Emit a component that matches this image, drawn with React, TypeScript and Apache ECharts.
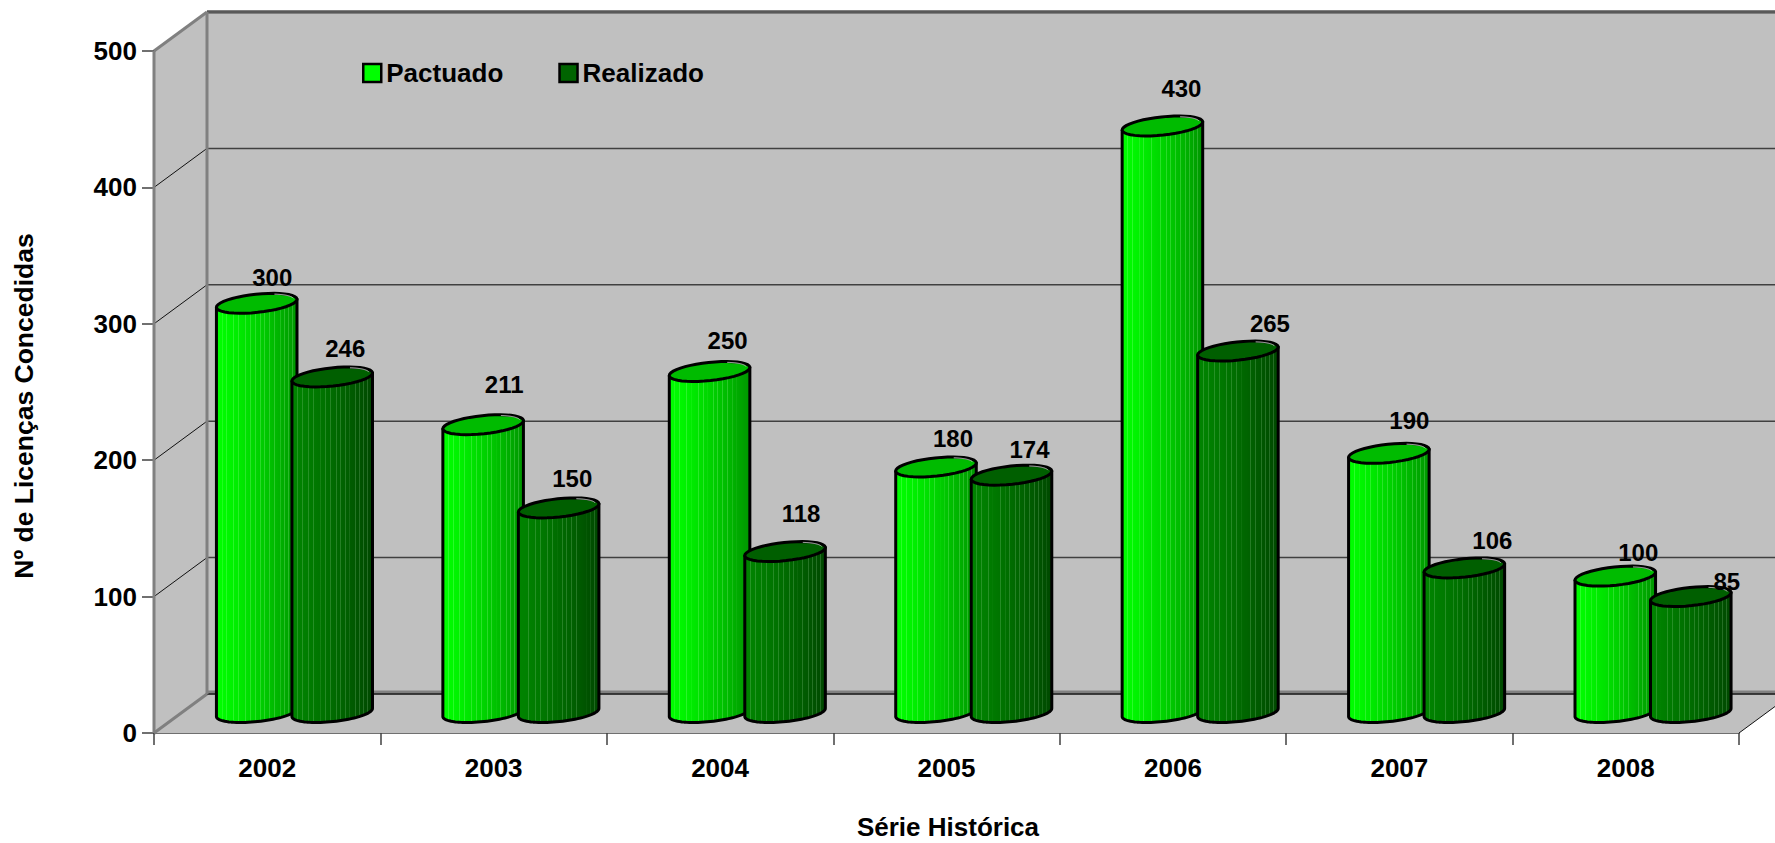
import React, { useEffect, useRef } from "react";
import * as echarts from "echarts";

const years = ["2002", "2003", "2004", "2005", "2006", "2007", "2008"];
const pactuado = [300, 211, 250, 180, 430, 190, 100];
const realizado = [246, 150, 118, 174, 265, 106, 85];
const yTicks = [0, 100, 200, 300, 400, 500];

// Where each value label was placed relative to the top of its cylinder
const pactuadoLabelShift = [[15.5, -26], [21, -40], [18, -31.5], [17, -28], [19, -37], [20.5, -33], [23, -24]];
const realizadoLabelShift = [[13, -28], [13.6, -29], [16, -38.5], [18, -26], [32, -28], [28, -27], [36, -15]];

const FONT = '"Liberation Sans", Arial, sans-serif';
const DEPTH_X = 53;
const DEPTH_Y = 39;
const BASE_LIFT = 20.5;
const RX = 40.5;
const RY = 9.1;
const TILT = (-6 * Math.PI) / 180;
const STRIPES = [0.07, 0.13, 0.21, 0.27, 0.36, 0.42, 0.48, 0.55, 0.6, 0.66, 0.72, 0.79, 0.84, 0.89, 0.94];

function mix(a: number[], b: number[], t: number) {
  return a.map((v, i) => Math.round(v + (b[i] - v) * t));
}
function rgb(c: number[]) {
  return `rgb(${c[0]},${c[1]},${c[2]})`;
}
function bodyGradient(from: number[], to: number[], stripe: number[]) {
  const colorStops: { offset: number; color: string }[] = [];
  let prev = 0;
  STRIPES.forEach((s) => {
    const base = mix(from, to, Math.pow(s, 1.3));
    colorStops.push({ offset: prev, color: rgb(mix(from, to, Math.pow(prev, 1.3))) });
    colorStops.push({ offset: s - 0.006, color: rgb(base) });
    colorStops.push({ offset: s - 0.005, color: rgb(mix(base, stripe, 0.22)) });
    colorStops.push({ offset: s + 0.005, color: rgb(mix(base, stripe, 0.22)) });
    colorStops.push({ offset: s + 0.006, color: rgb(base) });
    prev = s + 0.006;
  });
  colorStops.push({ offset: 1, color: rgb(to) });
  return { type: "linear", x: 0, y: 0, x2: 1, y2: 0, colorStops };
}

function ellipsePoint(cx: number, cy: number, deg: number, scale = 1) {
  const t = (deg * Math.PI) / 180;
  const ex = RX * scale * Math.cos(t);
  const ey = RY * scale * Math.sin(t);
  return [cx + ex * Math.cos(TILT) - ey * Math.sin(TILT), cy + ex * Math.sin(TILT) + ey * Math.cos(TILT)];
}
function arcPoints(cx: number, cy: number, from: number, to: number, scale = 1) {
  const pts: number[][] = [];
  const n = 40;
  for (let i = 0; i <= n; i++) pts.push(ellipsePoint(cx, cy, from + ((to - from) * i) / n, scale));
  return pts;
}

function cylinderRenderer(
  offsetX: number,
  values: number[],
  shifts: number[][],
  from: number[],
  to: number[],
  stripe: number[],
  topColor: string
) {
  return (_params: any, api: any) => {
    const i = api.value(0);
    const v = api.value(1);
    const top = api.coord([i, v]);
    const base = api.coord([i, 0]);
    const cx = top[0] + offsetX;
    const topY = top[1] - BASE_LIFT;
    const baseY = base[1] - BASE_LIFT;
    const rightDeg = 0;
    const leftDeg = 180;
    const topLeft = ellipsePoint(cx, topY, leftDeg);
    const topRight = ellipsePoint(cx, topY, rightDeg);
    const bottom = arcPoints(cx, baseY, rightDeg, leftDeg);
    const body = [topLeft, ...bottom.slice().reverse(), topRight];
    const shift = shifts[i];
    return {
      type: "group",
      children: [
        {
          type: "polygon",
          shape: { points: body },
          style: { fill: bodyGradient(from, to, stripe), stroke: "#000", lineWidth: 3, lineJoin: "round" },
        },
        {
          type: "polygon",
          shape: { points: arcPoints(cx, topY, 0, 360) },
          style: { fill: topColor, stroke: "#000", lineWidth: 3 },
        },
        {
          type: "polyline",
          shape: { points: arcPoints(cx, topY, -60, -8, 0.92) },
          style: { fill: "none", stroke: "#c8c8c8", lineWidth: 1 },
        },
        {
          type: "text",
          z2: 10,
          style: {
            text: String(values[i]),
            x: cx + shift[0],
            y: topY + shift[1],
            fill: "#000",
            font: `bold 24px ${FONT}`,
            textAlign: "center",
            textVerticalAlign: "middle",
          },
        },
      ],
    };
  };
}

function renderWalls(params: any, api: any) {
  const cs = params.coordSys;
  const x0 = cs.x;
  const x1 = cs.x + cs.width;
  const y0 = api.coord([0, 0])[1];
  const yTop = api.coord([0, 500])[1];
  const bx0 = x0 + DEPTH_X;
  const bx1 = x1 + DEPTH_X;
  const wall = { fill: "#C0C0C0" };
  const children: any[] = [
    { type: "polygon", shape: { points: [[bx0, yTop - DEPTH_Y], [bx1, yTop - DEPTH_Y], [bx1, y0 - DEPTH_Y], [bx0, y0 - DEPTH_Y]] }, style: wall },
    { type: "polygon", shape: { points: [[x0, yTop], [bx0, yTop - DEPTH_Y], [bx0, y0 - DEPTH_Y], [x0, y0]] }, style: wall },
    { type: "polygon", shape: { points: [[x0, y0], [bx0, y0 - DEPTH_Y], [bx1, y0 - DEPTH_Y], [x1, y0]] }, style: wall },
  ];
  const line = (a: number[], b: number[], stroke: string, lineWidth: number) => ({
    type: "line",
    shape: { x1: a[0], y1: a[1], x2: b[0], y2: b[1] },
    style: { stroke, lineWidth },
  });
  yTicks.slice(1, -1).forEach((t) => {
    const y = api.coord([0, t])[1];
    children.push(line([bx0, y - DEPTH_Y], [bx1, y - DEPTH_Y], "#404040", 1.5));
    children.push(line([x0, y], [bx0, y - DEPTH_Y], "#111", 1));
  });
  children.push(line([bx0, y0 - DEPTH_Y - 2], [bx1, y0 - DEPTH_Y - 2], "#808080", 3));
  children.push(line([bx0, y0 - DEPTH_Y], [bx1, y0 - DEPTH_Y], "#111", 1.5));
  children.push(line([x1, y0], [bx1, y0 - DEPTH_Y], "#111", 1));
  children.push(line([bx0, yTop - DEPTH_Y], [bx1, yTop - DEPTH_Y], "#808080", 4));
  children.push(line([bx0, yTop - DEPTH_Y], [bx1, yTop - DEPTH_Y], "#333", 1));
  children.push(line([bx0, yTop - DEPTH_Y], [bx0, y0 - DEPTH_Y], "#808080", 3));
  children.push(line([x0, yTop], [bx0, yTop - DEPTH_Y], "#808080", 3));
  children.push(line([x0, y0], [bx0, y0 - DEPTH_Y], "#808080", 3));
  children.push(line([x0, yTop], [x0, y0], "#808080", 3));
  return { type: "group", children };
}

export default function App() {
  const ref = useRef<HTMLDivElement>(null);
  useEffect(() => {
    document.body.style.margin = "0";
    const chart = echarts.init(ref.current!, undefined, { renderer: "svg" });
    chart.setOption({
      animation: false,
      backgroundColor: "#fff",
      grid: { left: 154, right: 36, top: 51, bottom: 110, outerBoundsMode: "none" },
      legend: {
        left: 362,
        top: 60,
        data: ["Pactuado", "Realizado"],
        icon: "rect",
        itemWidth: 18,
        itemHeight: 18,
        itemGap: 55,
        padding: 0,
        itemStyle: { borderColor: "#000", borderWidth: 2.5 },
        textStyle: { fontFamily: FONT, fontWeight: "bold", fontSize: 26, color: "#000" },
      },
      xAxis: {
        type: "category",
        data: years,
        boundaryGap: true,
        name: "Série Histórica",
        nameLocation: "middle",
        nameGap: 81,
        nameTextStyle: { fontFamily: FONT, fontWeight: "bold", fontSize: 26, color: "#000", padding: [0, 0, 0, 3] },
        axisLine: { show: true, lineStyle: { color: "#404040", width: 1.5 } },
        axisTick: { show: true, length: 12, lineStyle: { color: "#404040", width: 1.5 } },
        axisLabel: { fontFamily: FONT, fontWeight: "bold", fontSize: 26, color: "#000", margin: 22 },
      },
      yAxis: {
        type: "value",
        min: 0,
        max: 500,
        interval: 100,
        name: "Nº de Licenças Concedidas",
        nameLocation: "middle",
        nameRotate: 90,
        nameGap: 117,
        nameTextStyle: { fontFamily: FONT, fontWeight: "bold", fontSize: 26.5, color: "#000", padding: [0, 28, 0, 0] },
        axisLine: { show: true, lineStyle: { color: "#808080", width: 3 } },
        axisTick: { show: true, length: 12, lineStyle: { color: "#404040", width: 1.5 } },
        splitLine: { show: false },
        axisLabel: { fontFamily: FONT, fontWeight: "bold", fontSize: 26, color: "#000", margin: 17 },
      },
      series: [
        {
          name: "Paredes",
          type: "custom",
          silent: true,
          clip: false,
          z: 1,
          data: [[0, 0]],
          encode: { x: 0, y: 1 },
          renderItem: renderWalls,
        },
        {
          name: "Pactuado",
          type: "custom",
          clip: false,
          z: 3,
          data: pactuado.map((v, i) => [i, v]),
          encode: { x: 0, y: 1 },
          itemStyle: { color: "#00FF00", borderColor: "#000", borderWidth: 2.5 },
          renderItem: cylinderRenderer(-10.5, pactuado, pactuadoLabelShift, [0, 255, 0], [0, 150, 0], [190, 255, 190], "#00BB00"),
        },
        {
          name: "Realizado",
          type: "custom",
          clip: false,
          z: 4,
          data: realizado.map((v, i) => [i, v]),
          encode: { x: 0, y: 1 },
          itemStyle: { color: "#006400", borderColor: "#000", borderWidth: 2.5 },
          renderItem: cylinderRenderer(65, realizado, realizadoLabelShift, [0, 132, 0], [0, 72, 0], [170, 220, 170], "#005F00"),
        },
      ],
    });
    return () => chart.dispose();
  }, []);
  return <div ref={ref} style={{ position: "absolute", left: 0, top: 0, width: 1775, height: 843, overflow: "hidden" }} />;
}
